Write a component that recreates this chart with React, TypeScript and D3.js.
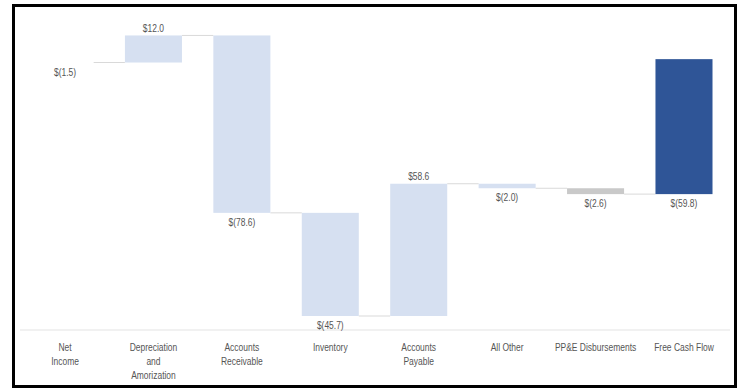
import React from "react";
import * as d3 from "d3";

const categories: string[][] = [
  ["Net", "Income"],
  ["Depreciation", "and", "Amorization"],
  ["Accounts", "Receivable"],
  ["Inventory"],
  ["Accounts", "Payable"],
  ["All Other"],
  ["PP&E Disbursements"],
  ["Free Cash Flow"],
];
const deltas = [-1.5, 12.0, -78.6, -45.7, 58.6, -2.0, -2.6];
const totalValue = -59.8;
const valueLabels = ["$(1.5)", "$12.0", "$(78.6)", "$(45.7)", "$58.6", "$(2.0)", "$(2.6)", "$(59.8)"];

const W = 744, H = 389;
const FONT = "'Liberation Sans', Arial, sans-serif";
const SX = 0.77;

function Txt({ x, y, children }: { x: number; y: number; children: React.ReactNode }) {
  return (
    <text transform={`translate(${x},${y}) scale(${SX},1)`} textAnchor="middle" fontFamily={FONT} fontSize={11} fill="#555555">
      {children}
    </text>
  );
}

export default function App() {
  const x = d3.scaleBand<number>().domain(d3.range(categories.length)).range([20.8, 728.2]).paddingInner(0.355).paddingOuter(0.1775);
  const y = d3.scaleLinear().domain([-120, 20]).range([330, 14]);

  type Bar = { i: number; start: number; end: number; fill: string; label: string; positive: boolean };
  const bars: Bar[] = [];
  let cum = 0;
  deltas.forEach((d, i) => {
    const start = cum;
    cum += d;
    let fill = "#D6E0F1";
    if (i === 0) fill = "#FFFFFF";
    if (i === 6) fill = "#C9C9C9";
    bars.push({ i, start, end: cum, fill, label: valueLabels[i], positive: d >= 0 });
  });
  bars.push({ i: 7, start: 0, end: totalValue, fill: "#2F5597", label: valueLabels[7], positive: false });

  const bw = x.bandwidth();
  const connectors = bars.slice(0, -1).map((b, k) => {
    const next = bars[k + 1];
    return { x1: (x(b.i) as number) + bw, x2: x(next.i) as number, yv: b.end };
  });

  return (
    <svg width={W} height={H} style={{ position: "absolute", left: 0, top: 0, background: "#fff" }}>
      <line x1={20} x2={730} y1={y(-120)} y2={y(-120)} stroke="#E3E3E3" strokeWidth={1} />
      {connectors.map((c, k) => (
        <line key={"c" + k} x1={c.x1} x2={c.x2} y1={y(c.yv)} y2={y(c.yv)} stroke="#D9D9D9" strokeWidth={1} />
      ))}
      {bars.map((b) => {
        const top = y(Math.max(b.start, b.end));
        const bottom = y(Math.min(b.start, b.end));
        const cx = (x(b.i) as number) + bw / 2;
        return (
          <g key={"b" + b.i}>
            <rect x={x(b.i)} y={top} width={bw} height={Math.max(0.5, bottom - top)} fill={b.fill} />
            <Txt x={cx} y={b.positive ? top - 3.5 : bottom + 13}>{b.label}</Txt>
          </g>
        );
      })}
      {categories.map((lines, i) => {
        const cx = (x(i) as number) + bw / 2;
        return (
          <Txt key={"t" + i} x={cx} y={350.5}>
            {lines.map((l, j) => (
              <tspan key={j} x={0} dy={j === 0 ? 0 : 14.5}>{l}</tspan>
            ))}
          </Txt>
        );
      })}
      <rect x={13.5} y={5.5} width={722} height={381} fill="none" stroke="#000" strokeWidth={3} />
    </svg>
  );
}
